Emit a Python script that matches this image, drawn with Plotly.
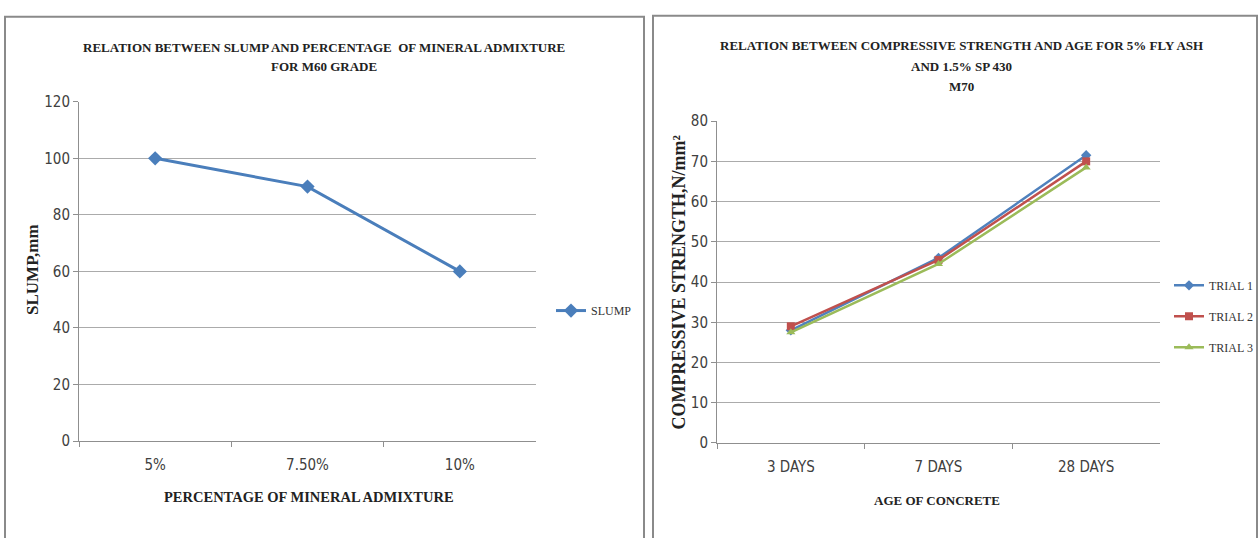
import plotly.graph_objects as go

# ---- data ----
slump_cats = ["5%", "7.50%", "10%"]
slump_vals = [100, 90, 60]

age_cats = ["3 DAYS", "7 DAYS", "28 DAYS"]
trial1 = [28, 46, 71.5]
trial2 = [29, 45.5, 70]
trial3 = [27.5, 44.5, 68.5]

left_title = ["RELATION BETWEEN SLUMP AND PERCENTAGE  OF MINERAL ADMIXTURE", "FOR M60 GRADE"]
right_title = ["RELATION BETWEEN COMPRESSIVE STRENGTH AND AGE FOR 5% FLY ASH", "AND 1.5% SP 430", "M70"]

W, H = 1259, 538
SERIF = "Liberation Serif, Times New Roman, serif"
NARROW = "DejaVu Sans Condensed, Liberation Sans Narrow, Arial Narrow, sans-serif"
GRID = "#ababab"
AX = "#8f8f8f"
TICKC = "#404040"

def px(x):
    return x / W

def py(y):
    return 1 - y / H

fig = go.Figure()

fig.add_trace(go.Scatter(
    x=slump_cats, y=slump_vals, name="SLUMP", mode="lines+markers",
    line=dict(color="#4A7EBB", width=3),
    marker=dict(symbol="diamond", size=11, color="#4A7EBB"),
    xaxis="x", yaxis="y", legend="legend"))

for name, vals, col, sym in [("TRIAL 1", trial1, "#4F81BD", "diamond"),
                              ("TRIAL 2", trial2, "#C0504D", "square"),
                              ("TRIAL 3", trial3, "#9BBB59", "triangle-up")]:
    fig.add_trace(go.Scatter(
        x=age_cats, y=vals, name=name, mode="lines+markers",
        line=dict(color=col, width=2.5),
        marker=dict(symbol=sym, size=8, color=col),
        xaxis="x2", yaxis="y2", legend="legend2", legendgroup=name))

xcommon = dict(type="category", tickson="boundaries", ticks="outside", ticklen=5,
               tickcolor=AX, showline=True, linecolor=AX, linewidth=1, showgrid=False,
               tickfont=dict(family=NARROW, size=15, color=TICKC), ticklabelstandoff=10,
               zeroline=False, fixedrange=True)
ycommon = dict(ticks="outside", ticklen=5, tickcolor=AX, showline=True, linecolor=AX,
               linewidth=1, showgrid=True, gridcolor=GRID, gridwidth=1, zeroline=False,
               tickfont=dict(family=NARROW, size=15, color=TICKC), fixedrange=True)

fig.update_layout(
    width=W, height=H, margin=dict(l=0, r=0, t=0, b=0),
    paper_bgcolor="white", plot_bgcolor="white",
    xaxis=dict(domain=[px(79), px(536)], anchor="y", range=[-0.5, 2.5], **xcommon),
    yaxis=dict(domain=[py(447), py(96)], anchor="x", range=[0, 120], dtick=20, **ycommon),
    xaxis2=dict(domain=[px(717), px(1160)], anchor="y2", range=[-0.5, 2.5], **xcommon),
    yaxis2=dict(domain=[py(449), py(116)], anchor="x2", range=[0, 80], dtick=10, **ycommon),
    legend=dict(x=px(551), y=py(312), xanchor="left", yanchor="middle",
                font=dict(family=SERIF, size=12, color="#333333"), bgcolor="rgba(0,0,0,0)"),
    legend2=dict(x=px(1169), y=py(318), xanchor="left", yanchor="middle",
                 traceorder="grouped", tracegroupgap=12,
                 font=dict(family=SERIF, size=12, color="#333333"), bgcolor="rgba(0,0,0,0)"),
    showlegend=True,
)

ann = []
for i, t in enumerate(left_title):
    ann.append(dict(text="<b>" + t + "</b>", x=px(324), y=py(40 + 20 * i), xref="paper", yref="paper",
                    xanchor="center", yanchor="middle", showarrow=False,
                    font=dict(family=SERIF, size=13, color="#222222")))
for i, t in enumerate(right_title):
    ann.append(dict(text="<b>" + t + "</b>", x=px(961), y=py(38 + 21 * i), xref="paper", yref="paper",
                    xanchor="center", yanchor="middle", showarrow=False,
                    font=dict(family=SERIF, size=13, color="#222222")))
ann.append(dict(text="<b>PERCENTAGE OF MINERAL ADMIXTURE</b>", x=px(309), y=py(505), xref="paper",
                yref="paper", xanchor="center", yanchor="middle", showarrow=False,
                font=dict(family=SERIF, size=14.5, color="#222222")))
ann.append(dict(text="<b>AGE OF CONCRETE</b>", x=px(937), y=py(508), xref="paper",
                yref="paper", xanchor="center", yanchor="middle", showarrow=False,
                font=dict(family=SERIF, size=13, color="#222222")))
ann.append(dict(text="<b>SLUMP,mm</b>", x=px(33), y=py(270), xref="paper", yref="paper",
                xanchor="center", yanchor="middle", showarrow=False, textangle=-90,
                font=dict(family=SERIF, size=17, color="#222222")))
ann.append(dict(text="<b>COMPRESSIVE STRENGTH,N/mm²</b>", x=px(679), y=py(283), xref="paper",
                yref="paper", xanchor="center", yanchor="middle", showarrow=False, textangle=-90,
                font=dict(family=SERIF, size=18, color="#222222")))
fig.update_layout(annotations=ann)

fig.update_layout(shapes=[
    dict(type="rect", xref="paper", yref="paper", x0=px(5), x1=px(644), y0=-0.05, y1=py(8),
         line=dict(color="#8a8a8a", width=2), layer="below"),
    dict(type="rect", xref="paper", yref="paper", x0=px(653), x1=px(1257), y0=-0.05, y1=py(7),
         line=dict(color="#8a8a8a", width=2), layer="below"),
])

post = ("var d=document.documentElement,b=document.body;"
        "d.style.margin='0';d.style.padding='0';d.style.overflow='hidden';d.style.height='538px';"
        "b.style.margin='0';b.style.padding='0';b.style.overflow='hidden';b.style.height='538px';")
fig.write_html("out.html", config={"displayModeBar": False}, post_script=post)
